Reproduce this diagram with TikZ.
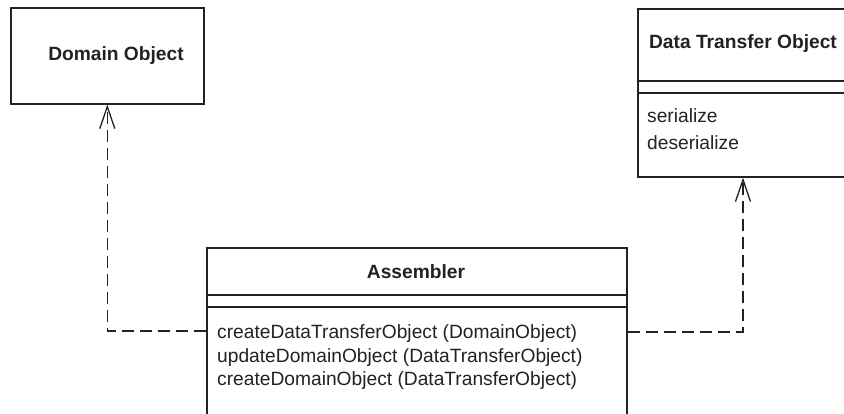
\documentclass[tikz,border=0pt]{standalone}
\usepackage{fontspec}
\setmainfont{Liberation Sans}
\usetikzlibrary{arrows.meta,calc}
\definecolor{ink}{HTML}{222222}
\begin{document}
\begin{tikzpicture}[x=1pt,y=-1pt,
  box/.style={draw=ink, line width=1.6pt, rectangle, inner sep=0pt, anchor=north west},
  sep/.style={draw=ink, line width=1.3pt},
  title/.style={font=\fontsize{19.2}{23}\selectfont\bfseries, text=ink, inner sep=0pt},
  op/.style={font=\fontsize{19.2}{23}\selectfont, text=ink, inner sep=0pt, anchor=west},
  dep/.style={draw=ink, line width=1.4pt, dash pattern=on 12pt off 6pt,
    -{Straight Barb[length=22pt,width=15pt,line width=1.3pt]}}]
\useasboundingbox (0,0) rectangle (844,414);
\clip (0,0) rectangle (844,414);
% Domain Object
\node[box, minimum width=193pt, minimum height=96pt] (dom) at (10,7) {};
\node[title] (domt) at (116,56) {Domain Object};
% Data Transfer Object
\node[box, minimum width=212pt, minimum height=168pt] (dto) at (637,8) {};
\node[title] (dtot) at (743,44) {Data Transfer Object};
\draw[sep] (dto.north west |- 0,81) -- (dto.north east |- 0,81);
\draw[sep] (dto.north west |- 0,93) -- (dto.north east |- 0,93);
\node[op] (dto1) at (647,116) {serialize};
\node[op] (dto2) at (647,143) {deserialize};
% Assembler
\node[box, minimum width=420pt, minimum height=200pt] (asm) at (206,247) {};
\node[title] (asmt) at (416,272) {Assembler};
\draw[sep] (asm.north west |- 0,295) -- (asm.north east |- 0,295);
\draw[sep] (asm.north west |- 0,307) -- (asm.north east |- 0,307);
\node[op] (m1) at (217,334) {createDataTransferObject (DomainObject)};
\node[op] (m2) at (217,357.5) {updateDomainObject (DataTransferObject)};
\node[op] (m3) at (217,381) {createDomainObject (DataTransferObject)};
% dependencies
\draw[dep] ($(asm.north west)+(0,84)$) -| (dom.south);
\draw[dep] ($(asm.north east)+(0,85)$) -| ($(dto.south west)!0.5!(dto.south west -| 849,0)$);
\end{tikzpicture}
\end{document}
